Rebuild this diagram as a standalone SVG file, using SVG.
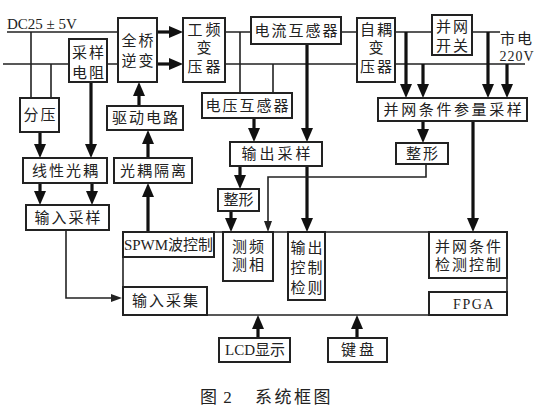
<svg xmlns="http://www.w3.org/2000/svg" width="541" height="415" viewBox="0 0 541 415">
<style>
.bg{fill:#fff}
.box{fill:#fff;stroke:#222;stroke-width:2}
.ln{fill:none;stroke:#222;stroke-width:1.6}
.thk{fill:none;stroke:#111;stroke-width:3.2}
.thn{fill:none;stroke:#222;stroke-width:1.6}
text{font-family:"Liberation Serif","Noto Sans CJK SC",serif;font-size:15px;fill:#222;text-anchor:middle}
.ls{letter-spacing:2px}
.ls3{letter-spacing:3px}
.cap{font-size:17px;text-anchor:start}
</style>
<defs>
<marker id="ah" markerUnits="userSpaceOnUse" markerWidth="14" markerHeight="12" refX="8" refY="6" orient="auto"><path d="M0,0 L14,6 L0,12 z" fill="#111"/></marker>
<marker id="at" markerUnits="userSpaceOnUse" markerWidth="11" markerHeight="8" refX="6" refY="4" orient="auto"><path d="M0,0 L11,4 L0,8 z" fill="#222"/></marker>
</defs>
<rect class="bg" width="541" height="415"/>
<g id="connectors">
<path class="ln" d="M7,32 H118 M3,64 H69 M107,64 H118 M225,32 H251 M341,32 H357 M395,32 H432 M472,32 H500 M225,64 H357 M395,64 H525 M31,32 V98 M51,64 V98 M240,32 V93 M273,64 V93"/>
<path class="ln" d="M123,232 H507 V315 H123 Z" stroke-width="2"/>
<path class="thk" marker-end="url(#ah)" d="M157,32 H177"/>
<path class="thk" marker-end="url(#ah)" d="M157,64 H177"/>
<path class="thk" marker-end="url(#ah)" d="M406,32 V92"/>
<path class="thk" marker-end="url(#ah)" d="M423,64 V92"/>
<path class="thk" marker-end="url(#ah)" d="M488,32 V92"/>
<path class="thk" marker-end="url(#ah)" d="M507,64 V92"/>
<path class="thk" marker-end="url(#ah)" d="M307,44 V136"/>
<path class="thk" marker-end="url(#ah)" d="M254,118 V136"/>
<path class="thk" marker-end="url(#ah)" d="M240,166 V183"/>
<path class="thk" marker-end="url(#ah)" d="M231,211 V226"/>
<path class="thk" marker-end="url(#ah)" d="M307,166 V226"/>
<path class="thk" marker-end="url(#ah)" d="M423,121 V137"/>
<path class="thk" marker-end="url(#ah)" d="M473,121 V226"/>
<path class="thk" marker-end="url(#ah)" d="M40,132 V152"/>
<path class="thk" marker-end="url(#ah)" d="M91,82 V152"/>
<path class="thk" marker-end="url(#ah)" d="M40,183 V199"/>
<path class="thk" marker-end="url(#ah)" d="M92,183 V199"/>
<path class="thk" marker-end="url(#ah)" d="M148,232 V189"/>
<path class="thk" marker-end="url(#ah)" d="M148,158 V136"/>
<path class="thk" marker-end="url(#ah)" d="M139,106 V88"/>
<path class="thk" marker-end="url(#ah)" d="M258,338 V321"/>
<path class="thk" marker-end="url(#ah)" d="M357,338 V321"/>
<path class="thn" marker-end="url(#at)" d="M426,164 V177 H268 V227"/>
<path class="thn" marker-end="url(#at)" d="M66,230 V298 H117"/>
</g>
<text x="7" y="29" style="text-anchor:start">DC25 ± 5V</text>
<g id="n_caiyang"><rect class="box" x="69" y="39" width="38" height="43"/><text class="ls" x="89" y="58">采样</text><text class="ls" x="89" y="78">电阻</text></g>
<g id="n_quanqiao"><rect class="box" x="118" y="18" width="39" height="64"/><text class="ls" x="138.5" y="46">全桥</text><text class="ls" x="138.5" y="66">逆变</text></g>
<g id="n_gongpin"><rect class="box" x="183" y="18" width="42" height="64"/><text class="ls3" x="205.5" y="35">工频</text><text x="204" y="53">变</text><text class="ls3" x="205.5" y="72">压器</text></g>
<g id="n_dianliu"><rect class="box" x="251" y="17" width="90" height="27"/><text class="ls" x="297" y="36">电流互感器</text></g>
<g id="n_ziou"><rect class="box" x="357" y="18" width="38" height="64"/><text class="ls" x="377" y="35">自耦</text><text x="376" y="53">变</text><text class="ls" x="377" y="72">压器</text></g>
<g id="n_kaiguan"><rect class="box" x="432" y="15" width="40" height="40"/><text class="ls" x="453" y="32">并网</text><text class="ls" x="453" y="51">开关</text></g>
<g id="n_shidian"><text class="ls" x="517" y="44">市电</text><text x="517" y="61" style="letter-spacing:1px;font-size:14px">220V</text></g>
<g id="n_fenya"><rect class="box" x="20" y="98" width="39" height="34"/><text class="ls" x="40.5" y="120">分压</text></g>
<g id="n_qudong"><rect class="box" x="107" y="106" width="76" height="24"/><text class="ls" x="146" y="123">驱动电路</text></g>
<g id="n_dianya"><rect class="box" x="202" y="93" width="90" height="25"/><text class="ls" x="248" y="111">电压互感器</text></g>
<g id="n_canliang"><rect class="box" x="378" y="98" width="149" height="23"/><text style="letter-spacing:2.6px" x="454" y="115">并网条件参量采样</text></g>
<g id="n_xianxing"><rect class="box" x="23" y="158" width="84" height="25"/><text class="ls" x="66" y="176">线性光耦</text></g>
<g id="n_geli"><rect class="box" x="114" y="158" width="78" height="25"/><text class="ls" x="154" y="176">光耦隔离</text></g>
<g id="n_shuchucaiyang"><rect class="box" x="230" y="142" width="92" height="24"/><text class="ls3" x="277.5" y="159">输出采样</text></g>
<g id="n_zhengxing1"><rect class="box" x="218" y="189" width="41" height="22"/><text x="238.5" y="205">整形</text></g>
<g id="n_zhengxing2"><rect class="box" x="396" y="143" width="52" height="21"/><text class="ls" x="423" y="159">整形</text></g>
<g id="n_shurucaiyang"><rect class="box" x="26" y="205" width="83" height="25"/><text class="ls" x="68.5" y="223">输入采样</text></g>
<g id="n_spwm"><rect class="box" x="123" y="232" width="91" height="25"/><text x="168.5" y="250">SPWM波控制</text></g>
<g id="n_cepin"><rect class="box" x="223" y="232" width="50" height="49"/><text class="ls" x="249" y="252">测频</text><text class="ls" x="249" y="270">测相</text></g>
<g id="n_shuchukongzhi"><rect class="box" x="288" y="232" width="37" height="68"/><text class="ls" x="307.5" y="253">输出</text><text class="ls" x="307.5" y="273">控制</text><text class="ls" x="307.5" y="293">检则</text></g>
<g id="n_jiance"><rect class="box" x="429" y="232" width="78" height="46"/><text class="ls" x="469" y="252">并网条件</text><text class="ls" x="469" y="270">检测控制</text></g>
<g id="n_fpga"><rect class="box" x="429" y="292" width="78" height="23"/><text style="letter-spacing:1.5px;font-size:14px" x="474" y="309">FPGA</text></g>
<g id="n_shurucaiji"><rect class="box" x="123" y="287" width="84" height="28"/><text class="ls" x="166" y="306">输入采集</text></g>
<g id="n_lcd"><rect class="box" x="219" y="338" width="71" height="24"/><text x="255" y="355">LCD显示</text></g>
<g id="n_jianpan"><rect class="box" x="328" y="338" width="59" height="24"/><text class="ls3" x="359" y="355">键盘</text></g>
<text class="cap" x="200" y="403" style="letter-spacing:1px">图 2</text>
<text class="cap" x="255" y="403" style="letter-spacing:2.5px">系统框图</text>
</svg>
